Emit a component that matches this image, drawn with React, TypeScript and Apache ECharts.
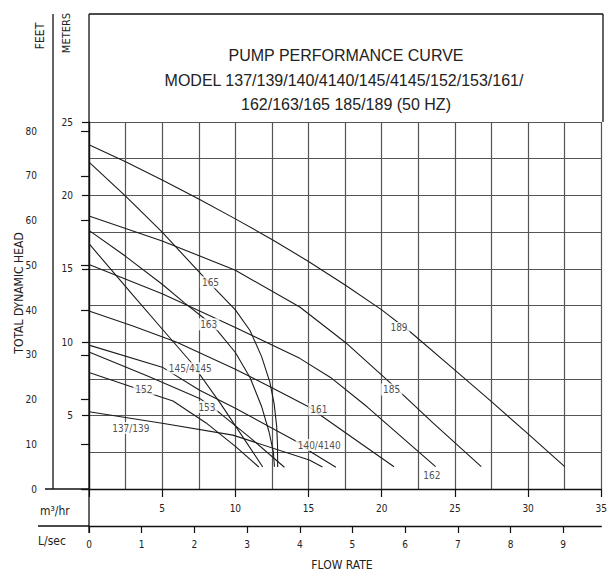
import React, { useEffect, useRef } from 'react';
import * as echarts from 'echarts';

const NARROW = '"Liberation Sans Narrow", "DejaVu Sans Condensed", "Liberation Sans", Arial, sans-serif';
const REGULAR = '"Liberation Sans", Arial, sans-serif';
const INK = '#1c1c1c';
const GRID = '#555555';

// ---- text ----
const titleLines = [
  'PUMP PERFORMANCE CURVE',
  'MODEL 137/139/140/4140/145/4145/152/153/161/',
  '162/163/165 185/189 (50 HZ)',
];

// ---- axes ----
const flowMaxM3h = 35; // m3/hr
const headMaxM = 25; // meters
const M_TO_FT = 3.28084;
const M3H_PER_LPS = 3.6;
const feetTicks = [0, 10, 20, 30, 40, 50, 60, 70, 80];
const lpsTicks = [0, 1, 2, 3, 4, 5, 6, 7, 8, 9];

// ---- curves: [flow m3/hr, head m] ----
const c189 = [[0, 23.45], [2.5, 22.3], [5, 21.05], [7.5, 19.75], [10, 18.4], [12.5, 17.0], [15, 15.5], [17.5, 13.9], [20, 12.2], [22, 10.66], [25, 8.1], [27.5, 5.95], [30, 3.75], [32.5, 1.52]];
const c185 = [[0, 18.6], [5, 16.9], [10, 14.9], [14.4, 12.4], [17.5, 10.0], [20.4, 7.4], [23.5, 4.5], [26.8, 1.52]];
const c165 = [[0, 22.27], [2.5, 19.95], [5, 17.5], [7.5, 14.8], [8.7, 13.55], [10, 12.2], [11, 10.8], [11.8, 9.0], [12.35, 7.3], [12.65, 5.8], [12.82, 4.3], [12.88, 3.0], [12.89, 1.5]];
const c163 = [[0, 17.62], [2.5, 15.85], [5, 13.95], [6.5, 12.7], [7.9, 11.6], [8.8, 10.75], [10, 9.3], [11, 7.6], [11.8, 5.6], [12.3, 3.9], [12.6, 2.5], [12.67, 1.52]];
const c162 = [[0, 15.29], [5, 13.3], [10, 11.0], [14.4, 8.9], [16.5, 7.6], [19, 5.6], [23.68, 1.52]];
const c161 = [[0, 12.13], [3, 11.1], [6, 10.0], [10, 8.15], [12.5, 6.9], [15, 5.6], [17.5, 3.85], [20.84, 1.52]];
const c145 = [[0, 16.71], [3, 13.2], [5, 10.9], [7, 8.6], [9, 5.8], [11.87, 1.5]];
const c153 = [[0, 9.34], [4, 7.7], [7.56, 6.17], [8.92, 5.19], [11, 3.5], [13.35, 1.48]];
const c152 = [[0, 7.94], [3.25, 6.85], [4.5, 6.4], [5.74, 6.0], [8, 4.5], [10, 2.9], [11.6, 1.5]];
const c140 = [[0, 9.8], [5, 8.3], [7.56, 6.73], [10, 5.5], [14.37, 3.13], [15.25, 2.47], [16.87, 1.48]];
const c137 = [[0, 5.26], [5, 4.48], [9.83, 3.67], [15.05, 1.97], [15.95, 1.5]];

const curves = [c189, c185, c165, c163, c162, c161, c145, c153, c152, c140, c137];

// ---- curve labels: [text, flow, head] ----
const labelTexts = ['189', '185', '165', '163', '162', '161', '145/4145', '153', '152', '140/4140', '137/139'];
const labelFlows = [21.18, 20.68, 8.3, 8.18, 23.42, 15.7, 6.92, 8.06, 3.75, 15.73, 2.86];
const labelHeads = [10.97, 6.78, 14.08, 11.22, 0.95, 5.44, 8.23, 5.58, 6.8, 2.99, 4.15];

export default function App() {
  const ref = useRef<HTMLDivElement>(null);

  useEffect(() => {
    if (!ref.current) return;
    const chart = echarts.init(ref.current, undefined, { renderer: 'svg' });

    const lineSeries = curves.map((data, i) => ({
      type: 'line',
      name: labelTexts[i],
      data,
      showSymbol: false,
      symbol: 'none',
      smooth: false,
      lineStyle: { color: INK, width: 1.1 },
      silent: true,
      z: 2,
    }));

    const labelSeries = {
      type: 'scatter',
      data: labelTexts.map((t, i) => ({ name: t, value: [labelFlows[i], labelHeads[i]] })),
      symbol: 'rect',
      symbolSize: 1,
      itemStyle: { color: 'rgba(0,0,0,0)' },
      label: {
        show: true,
        position: 'inside',
        formatter: '{b}',
        color: '#222',
        fontSize: 10,
        fontFamily: NARROW,
        backgroundColor: '#fff',
        padding: [1, 2],
      },
      silent: true,
      z: 5,
    };

    const axisLineStyle = { color: '#111', width: 1.3 };
    const labelStyle = { fontSize: 10, fontFamily: NARROW, color: '#222' };

    const text = (t: string, x: number, y: number, size: number, family: string, extra: any = {}) => ({
      type: 'text',
      x,
      y,
      silent: true,
      ...extra,
      style: {
        text: t,
        x: 0,
        y: 0,
        fill: '#222',
        font: `${size}px ${family}`,
        align: extra.align || 'center',
        verticalAlign: 'middle',
      },
    });
    const seg = (x1: number, y1: number, x2: number, y2: number) => ({
      type: 'line',
      silent: true,
      shape: { x1, y1, x2, y2 },
      style: { stroke: '#111', lineWidth: 1.3 },
    });

    chart.setOption({
      animation: false,
      backgroundColor: '#fff',
      grid: { left: 89, right: 7, top: 122, bottom: 86, containLabel: false },
      xAxis: [
        {
          type: 'value',
          min: 0,
          max: flowMaxM3h,
          interval: 5,
          position: 'bottom',
          axisLine: { show: true, onZero: false, lineStyle: axisLineStyle },
          axisTick: { show: true, length: 8, inside: false, lineStyle: { color: '#111', width: 1.2 } },
          axisLabel: { ...labelStyle, margin: 14, formatter: (v: number) => (v === 0 ? '' : String(v)) },
          splitLine: { show: true, lineStyle: { color: GRID, width: 1.2 } },
          minorTick: { show: false, splitNumber: 2 },
          minorSplitLine: { show: true, lineStyle: { color: GRID, width: 1.2 } },
        },
        {
          type: 'value',
          min: 0,
          max: flowMaxM3h / M3H_PER_LPS,
          position: 'bottom',
          offset: 37,
          axisLine: { show: true, onZero: false, lineStyle: axisLineStyle },
          axisTick: { show: true, length: 7, inside: false, customValues: lpsTicks, lineStyle: { color: '#111', width: 1.2 } },
          axisLabel: { ...labelStyle, margin: 13, customValues: lpsTicks, formatter: (v: number) => String(v) },
          splitLine: { show: false },
        },
      ],
      yAxis: [
        {
          type: 'value',
          min: 0,
          max: headMaxM,
          interval: 5,
          position: 'left',
          axisLine: { show: true, onZero: false, lineStyle: axisLineStyle },
          axisTick: { show: true, length: 7, inside: false, lineStyle: { color: '#111', width: 1.2 } },
          axisLabel: { ...labelStyle, margin: 16, formatter: (v: number) => (v === 0 ? '' : String(v)) },
          splitLine: { show: true, lineStyle: { color: GRID, width: 1.2 } },
          minorTick: { show: false, splitNumber: 2 },
          minorSplitLine: { show: true, lineStyle: { color: GRID, width: 1.2 } },
        },
        {
          type: 'value',
          min: 0,
          max: headMaxM * M_TO_FT,
          position: 'left',
          offset: 36,
          axisLine: { show: false },
          axisTick: { show: true, length: 8, inside: false, customValues: feetTicks, lineStyle: { color: '#111', width: 1.2 } },
          axisLabel: { ...labelStyle, margin: 16, customValues: feetTicks, formatter: (v: number) => String(v) },
          splitLine: { show: false },
        },
      ],
      series: [...lineSeries, labelSeries],
      graphic: [
        seg(89, 14, 603, 14),
        seg(603, 14, 603, 122),
        seg(89, 14, 89, 533),
        seg(53, 14, 53, 489),
        seg(45, 489, 89, 489),
        seg(38, 526, 89, 526),
        text(titleLines[0], 346, 55.5, 16, REGULAR),
        text(titleLines[1], 344, 80.5, 16, REGULAR),
        text(titleLines[2], 346, 104, 16, REGULAR),
        text('FEET', 40, 36, 12, NARROW, { rotation: Math.PI / 2 }),
        text('METERS', 66, 33, 11, NARROW, { rotation: Math.PI / 2 }),
        text('TOTAL DYNAMIC HEAD', 18.5, 293, 12, NARROW, { rotation: Math.PI / 2 }),
        text('m³/hr', 40, 511, 12, NARROW, { align: 'left' }),
        text('L/sec', 38, 541, 12, NARROW, { align: 'left' }),
        text('FLOW RATE', 342, 565, 12, NARROW),
      ],
    });

    return () => chart.dispose();
  }, []);

  return (
    <div
      ref={ref}
      style={{ position: 'fixed', left: 0, top: 0, width: 610, height: 575, background: '#fff' }}
    />
  );
}
